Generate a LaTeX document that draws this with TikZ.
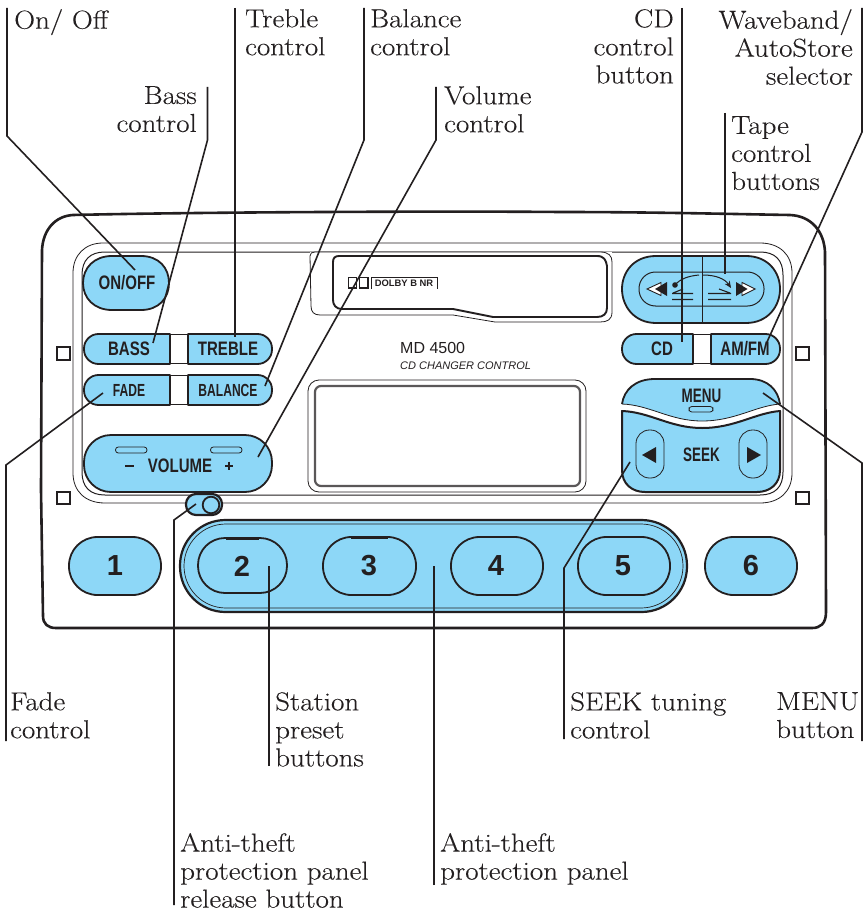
\documentclass[tikz,border=0pt]{standalone}
\usepackage{fontspec}
\setsansfont{Liberation Sans}[FakeStretch=0.77]
\newfontfamily\numfont{Liberation Sans}
\newfontfamily\narrowfont[FakeStretch=0.69]{Liberation Sans}
\newfontfamily\labfont[FakeStretch=1.115,FakeBold=0.2]{Latin Modern Roman}
\usetikzlibrary{arrows.meta}
\definecolor{ink}{HTML}{231F20}
\definecolor{sky}{HTML}{8DD7F7}
\tikzset{
  x=1pt,y=-1pt,
  btn/.style={draw=ink,line width=1.8pt,fill=sky,line join=round},
  thin/.style={draw=ink,line width=0.8pt},
  lead/.style={draw=ink,line width=1.6pt,line join=miter},
  lab/.style={font=\labfont\fontsize{26}{28}\selectfont,inner sep=0pt,align=left,anchor=north west,text=ink},
  labr/.style={font=\labfont\fontsize{26}{28}\selectfont,inner sep=0pt,align=right,anchor=north east,text=ink},
  b/.style={font=\sffamily\bfseries\fontsize{#1}{#1}\selectfont,inner sep=0pt,text=ink},
  bn/.style={font=\narrowfont\bfseries\fontsize{#1}{#1}\selectfont,inner sep=0pt,text=ink},
  num/.style={font=\numfont\bfseries\fontsize{29}{29}\selectfont,inner sep=0pt,text=ink},
  sq/.style={draw=ink,line width=1.6pt,fill=white},
}
\begin{document}
\begin{tikzpicture}
\useasboundingbox (0,0) rectangle (863,912);
\fill[white] (0,0) rectangle (863,912);
% bezel
\draw[ink,line width=2.6pt,line join=round] (73,215) .. controls (200,212) and (450,211) .. (560,212) .. controls (650,212) and (730,214) .. (790,215) .. controls (812,216) and (824,232) .. (825,252) -- (826,612) .. controls (826,624) and (820,628) .. (812,628) -- (56,628) .. controls (48,628) and (43,624) .. (43,616) -- (41,490) -- (42,250) .. controls (43,230) and (55,216) .. (73,215);
% inner panel
\draw[ink,line width=0.8pt] (73,273) .. controls (73,255) and (85,243) .. (103,243) -- (760,243) .. controls (780,243) and (792,255) .. (792,273) -- (792,473) .. controls (792,491) and (780,503) .. (760,503) -- (105,503) .. controls (85,503) and (73,491) .. (73,473) -- cycle;
\draw[ink,line width=1pt] (82,275) .. controls (82,260) and (90,252) .. (105,252) -- (760,252) .. controls (775,252) and (783,260) .. (783,275) -- (783,472) .. controls (783,487) and (775,495) .. (760,495) -- (105,495) .. controls (90,495) and (82,487) .. (82,472) -- cycle;
% cassette
\fill[white] (310,252) rectangle (612,315);
\draw[ink,line width=0.8pt] (310,256) .. controls (310,253) and (312,252) .. (315,252) -- (600,252) .. controls (609,252) and (612,256) .. (612,262) -- (612,312) .. controls (612,320) and (607,322) .. (600,322) -- (495,322) -- (453,315) -- (320,315) .. controls (314,315) and (311,312) .. (311,306) -- cycle;
\draw[ink,line width=1.9pt,line join=round] (339,256) -- (597,256) .. controls (604,256) and (606,260) .. (607,266) -- (607,308) .. controls (607,314) and (603,317) .. (597,317) -- (493,317) -- (453,309) -- (342,309) .. controls (336,309) and (333,305) .. (333,300) -- (333,262) .. controls (333,258) and (335,256) .. (339,256) -- cycle;
% dolby
\draw[ink,line width=1.2pt] (348.5,277.5) rectangle (356.5,288);
\draw[ink,line width=1.4pt] (359.5,277.5) rectangle (368,288);
\draw[ink,line width=0.7pt] (371,289) -- (371,277.5) -- (437,277.5) -- (437,289);
\node (dolby) [b=10.5,anchor=center] at (404,283) {\numfont\bfseries\fontsize{9.4}{10}\selectfont DOLBY B NR};
\node (model) [font=\numfont\fontsize{16}{16}\selectfont,inner sep=0pt,anchor=west,text=ink] at (400,348) {MD 4500};
\node (changer) [font=\numfont\itshape\fontsize{11}{12}\selectfont,inner sep=0pt,anchor=west,text=ink] at (400,366) {CD CHANGER CONTROL};
% display
\draw[ink,line width=0.8pt,rounded corners=11pt] (308,380) rectangle (586,492);
\draw[ink!75,line width=2.2pt,rounded corners=6pt] (315,386) rectangle (580,486);
% squares
\draw[sq] (57,347) rectangle (70,360);
\draw[sq] (57,492) rectangle (70,504);
\draw[sq] (796,347) rectangle (809,360);
\draw[sq] (796,492) rectangle (809,504);
% left buttons
\draw[btn] (112,256) -- (141,256) .. controls (159,256) and (169,268) .. (169,283) .. controls (169,298) and (159,310) .. (141,310) -- (112,310) .. controls (94,310) and (83,298) .. (83,283) .. controls (83,268) and (94,256) .. (112,256) -- cycle;
\node (onoff) [b=19.5] at (127,283) {ON/OFF};
\draw[thin] (170,334.5) -- (188,334.5) (170,363.5) -- (188,363.5) (170,375.5) -- (188,375.5) (170,404.5) -- (188,404.5);
\draw[btn] (170,334) [rounded corners=14.5pt] -- (84,334) -- (84,364) [sharp corners] -- (170,364) -- cycle;
\draw[btn] (188,334) [rounded corners=14.5pt] -- (272,334) -- (272,364) [sharp corners] -- (188,364) -- cycle;
\draw[btn] (170,375) [rounded corners=14.5pt] -- (84,375) -- (84,405) [sharp corners] -- (170,405) -- cycle;
\draw[btn] (188,375) [rounded corners=14.5pt] -- (272,375) -- (272,405) [sharp corners] -- (188,405) -- cycle;
\node (bass) [b=19.5] at (129,348.5) {BASS};
\node (treble) [b=19.5] at (228,348.5) {TREBLE};
\node (fade) [bn=17.5] at (129,390.5) {FADE};
\node (balance) [bn=17.5] at (228,390.5) {BALANCE};
\draw[btn,rounded corners=27pt] (84,435) rectangle (272,492);
\draw[thin,fill=sky,rounded corners=2.8pt] (115.5,447) rectangle (147,453);
\draw[thin,fill=sky,rounded corners=2.8pt] (210.5,447) rectangle (242,453);
\node (volume) [b=19.5] at (180,466) {VOLUME};
\draw[ink,line width=2pt] (125,466) -- (134,466);
\draw[ink,line width=1.6pt] (229,461.5) -- (229,470) (225,465.7) -- (233,465.7);
% release
\draw[btn,line width=2.2pt,rounded corners=10pt] (186,494) rectangle (222,515);
\draw[ink,line width=1.8pt,fill=sky] (211,505) circle[radius=8.3];
% tape
\draw[btn] (656,256) -- (746,256) .. controls (768,256) and (780,272) .. (780,289) .. controls (780,306) and (768,323) .. (746,323) -- (656,323) .. controls (634,323) and (622,306) .. (622,289) .. controls (622,272) and (634,256) .. (656,256) -- cycle;
\draw[ink,line width=1pt,rounded corners=16.5pt] (639,272) rectangle (764,306);
\draw[ink,line width=1pt] (702,256) -- (702,323);
\draw[ink,line width=0.9pt,fill=white] (647,289) -- (661,282.5) -- (661,295.5) -- cycle;
\fill[ink] (655,289) -- (667,282) -- (667,296) -- cycle;
\draw[ink,line width=0.9pt,fill=white] (755,289) -- (742,282.5) -- (742,295.5) -- cycle;
\fill[ink] (747.5,289) -- (736,282) -- (736,296) -- cycle;
\draw[ink,line width=1.1pt] (672,293.5) -- (693,293.5) (672,299.5) -- (693,299.5) (708,293.5) -- (731,293.5) (708,299.5) -- (731,299.5) (673,293) -- (683,289) (719,289) -- (730,293);
\fill[ink] (675,285) circle[radius=2.8];
\draw[ink,line width=1pt] (675,285) .. controls (680,279) and (688,276) .. (699,275);
\draw[ink,line width=1pt,-{Stealth[length=7pt,width=6pt]}] (703,275) .. controls (716,275) and (725,279) .. (731,288);
% cd amfm
\draw[thin] (693,334.5) -- (711,334.5) (693,363.5) -- (711,363.5);
\draw[btn] (693,334) [rounded corners=14.5pt] -- (622,334) -- (622,364) [sharp corners] -- (693,364) -- cycle;
\draw[btn] (711,334) [rounded corners=14.5pt] -- (780,334) -- (780,364) [sharp corners] -- (711,364) -- cycle;
\node (cdb) [b=19.5] at (662,349) {CD};
\node (amfm) [b=19.5] at (745,349) {AM/FM};
% menu seek
\fill[sky] (622,404) .. controls (624,390) and (635,379) .. (655,379) -- (750,379) .. controls (768,379) and (778,390) .. (780,404) .. controls (755,406) and (735,421) .. (702,421) .. controls (670,421) and (650,405) .. (622,404) -- cycle;
\draw[ink,line width=1.8pt] (622,404) .. controls (624,390) and (635,379) .. (655,379) -- (750,379) .. controls (768,379) and (778,390) .. (780,404);
\draw[ink,line width=0.8pt] (622,404) .. controls (650,405) and (670,421) .. (702,421) .. controls (735,421) and (755,406) .. (780,404);
\draw[btn,line width=2pt] (622,411) .. controls (650,412) and (670,428) .. (702,428) .. controls (735,428) and (755,413) .. (780,411) -- (780,470) .. controls (780,484) and (770,492) .. (757,492) -- (645,492) .. controls (632,492) and (622,484) .. (622,470) -- cycle;
\draw[thin,fill=sky,rounded corners=2.8pt] (689,406.5) rectangle (713,412);
\node (menu) [bn=19.5] at (701.5,396) {MENU};
\node (seek) [bn=19.5] at (701.5,455) {SEEK};
\draw[thin,rounded corners=13.5pt] (636,430) rectangle (664,478);
\draw[thin,rounded corners=13.5pt] (739,430) rectangle (767,478);
\fill[ink] (642,455) -- (656,447) -- (656,463) -- cycle;
\fill[ink] (761,455) -- (747,447) -- (747,463) -- cycle;
% presets
\draw[btn,line width=2.2pt,rounded corners=45.5pt] (180,520) rectangle (687,612);
\draw[ink,line width=0.7pt,rounded corners=42pt] (184,524) rectangle (683,608);
\draw[btn,rounded corners=28.5pt] (69,537) rectangle (161,595);
\draw[btn,rounded corners=27pt] (198,538) rectangle (287,593);
\draw[btn,rounded corners=28.5pt] (323,537) rectangle (416,595);
\draw[btn,rounded corners=28.5pt] (451,537) rectangle (543,595);
\draw[btn,rounded corners=28.5pt] (578,537) rectangle (670,595);
\draw[btn,rounded corners=28.5pt] (705,537) rectangle (797,595);
\draw[ink,line width=3pt] (226,538) -- (259,538);
\draw[ink,line width=3pt] (351,537) -- (388,537);
\node (n1) [num] at (115,566) {1};
\node (n2) [num] at (242,566) {2};
\node (n3) [num] at (369,566) {3};
\node (n4) [num] at (496,566) {4};
\node (n5) [num] at (623,566) {5};
\node (n6) [num] at (751,566) {6};
% leaders
\draw[lead] (7,8) -- (7,136) -- (135,270);
\draw[lead] (207.5,87) -- (207.5,140) -- (153,343);
\draw[lead] (235,8) -- (235,337);
\draw[lead] (364,8) -- (364,140) -- (265,386);
\draw[lead] (436,87) -- (436,140) -- (258,457);
\draw[lead] (682,8) -- (682,342);
\draw[lead] (725,113) -- (725,274);
\draw[lead] (862,8) -- (862,132) -- (767,342);
\draw[lead] (6,741) -- (6,465) -- (103,393);
\draw[lead] (269,766) -- (269,566);
\draw[lead] (174,905) -- (174,520) -- (196,504);
\draw[lead] (434,885) -- (434,566);
\draw[lead] (564,739) -- (564,568) -- (630,462);
\draw[lead] (862,741) -- (862,463) -- (763,393);
% labels
\node (lon) [lab] at (14,9) {On/ Off};
\node (ltr) [lab] at (245,9) {Treble\\control};
\node (lba) [lab] at (370,9) {Balance\\control};
\node (lbs) [labr] at (197,86) {Bass\\control};
\node (lvo) [lab] at (444,86) {Volume\\control};
\node (lcd) [labr] at (674,9) {CD\\control\\button};
\node (lwa) [labr] at (853,9) {Waveband/\\AutoStore\\selector};
\node (lta) [lab] at (731,116) {Tape\\control\\buttons};
\node (lfa) [lab] at (10,692) {Fade\\control};
\node (lst) [lab] at (275,692) {Station\\preset\\buttons};
\node (lse) [lab] at (570,692) {SEEK tuning\\control};
\node (lme) [lab] at (776,692) {MENU\\button};
\node (lre) [lab] at (180,833) {Anti-theft\\protection panel\\release button};
\node (lpa) [lab] at (440,833) {Anti-theft\\protection panel};
\end{tikzpicture}
\end{document}
